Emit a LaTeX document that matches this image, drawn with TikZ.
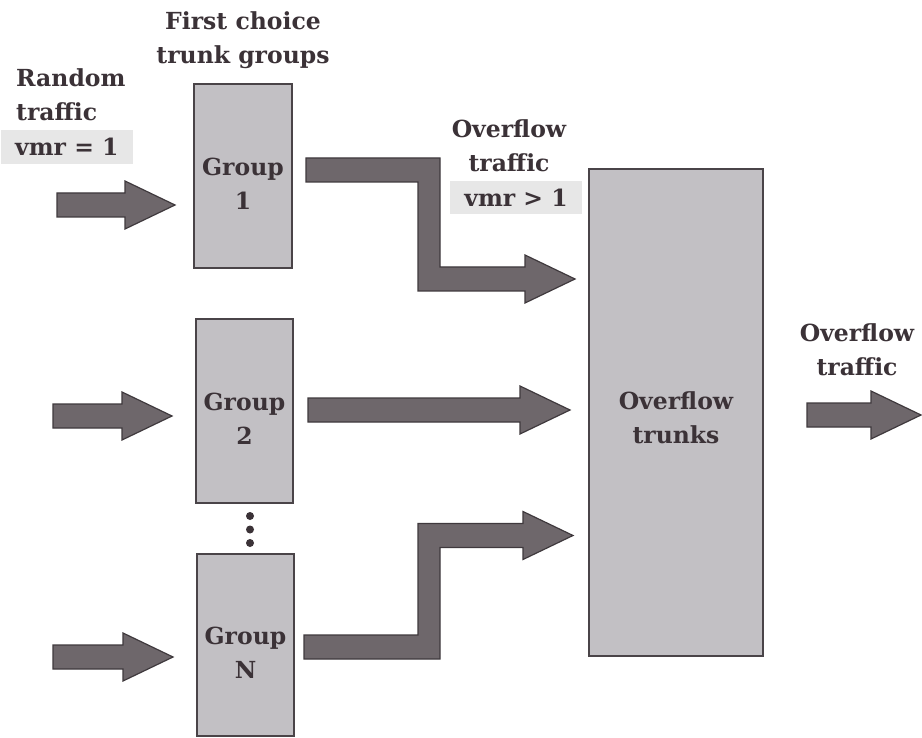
\documentclass[tikz,border=0pt]{standalone}
\usepackage{fontspec}
\setmainfont{DejaVu Serif}
\usetikzlibrary{calc}

\definecolor{inkc}{HTML}{3B3237}
\definecolor{arrowfill}{HTML}{6E676B}
\definecolor{arrowline}{HTML}{3F393D}
\definecolor{boxfill}{HTML}{C2C0C4}
\definecolor{boxline}{HTML}{4A4448}
\definecolor{tagfill}{HTML}{E7E7E7}

% half width of an arrow shaft, half width and length of its head
\def\fatw{12pt}
\def\fath{24pt}
\def\fatl{50pt}

% straight block arrow from #1 to the tip #2
\newcommand{\fatstraight}[2]{%
  \path[fatarrow] let \p1=(#1), \p2=(#2) in
    (\x1,\y1+\fatw) -- (\x2-\fatl,\y1+\fatw) -- (\x2-\fatl,\y1+\fath) -- (\x2,\y1)
    -- (\x2-\fatl,\y1-\fath) -- (\x2-\fatl,\y1-\fatw) -- (\x1,\y1-\fatw) -- cycle;}

% block arrow from #1 to the tip #4, with a vertical leg whose upper
% outline runs at the x of #2 and whose lower outline runs at the x of #3
\newcommand{\fatelbow}[4]{%
  \path[fatarrow] let \p1=(#1), \p2=(#2), \p3=(#3), \p4=(#4) in
    (\x1,\y1+\fatw) -- (\x2,\y1+\fatw) -- (\x2,\y4+\fatw)
    -- (\x4-\fatl,\y4+\fatw) -- (\x4-\fatl,\y4+\fath) -- (\x4,\y4)
    -- (\x4-\fatl,\y4-\fath) -- (\x4-\fatl,\y4-\fatw)
    -- (\x3,\y4-\fatw) -- (\x3,\y1-\fatw) -- (\x1,\y1-\fatw) -- cycle;}

\tikzset{
  trunkbox/.style={draw=boxline, line width=1.6pt, fill=boxfill, inner sep=0pt},
  lbl/.style={font=\fontsize{23.5}{34}\selectfont\bfseries, text=inkc, align=center, inner sep=0pt},
  tag/.style={lbl, fill=tagfill, inner xsep=14pt, inner ysep=8pt},
  fatarrow/.style={fill=arrowfill, draw=arrowline, line width=1.2pt, line join=miter},
  dotmark/.style={circle, fill=inkc, inner sep=0pt, minimum size=8pt}
}

\begin{document}
\begin{tikzpicture}[x=1pt, y=-1pt]
  \useasboundingbox[fill=white] (0,0) rectangle (922,738);

  % trunk groups
  \node[trunkbox, minimum width=98pt, minimum height=184pt] (g1) at (243,176) {};
  \node[trunkbox, minimum width=97pt, minimum height=184pt] (g2) at (244.5,411) {};
  \node[trunkbox, minimum width=97pt, minimum height=182pt] (gN) at (245.5,645) {};
  \node[trunkbox, minimum width=174pt, minimum height=487pt] (ot) at (676,412.5) {};

  \node[lbl] (g1t) at (243,184) {Group\\1};
  \node[lbl] (g2t) at (244.5,419) {Group\\2};
  \node[lbl] (gNt) at (245.5,653) {Group\\N};
  \node[lbl] (ott) at (676,418) {Overflow\\trunks};

  % ellipsis between group 2 and group N
  \node[dotmark] (d1) at (250,516) {};
  \node[dotmark] (d2) at (250,529.5) {};
  \node[dotmark] (d3) at (250,543) {};

  % headings and traffic labels
  \node[lbl] (hd) at (243,40) {First choice\\trunk groups};
  \node[lbl, align=left, anchor=west] (rt) at (16,95) {Random\\traffic};
  \node[tag, anchor=west] (rv) at (1,147) {vmr = 1};
  \node[lbl] (ovt) at (509,146) {Overflow\\traffic};
  \node[tag] (ovv) at (516,197.5) {vmr > 1};
  \node[lbl] (out) at (857,350) {Overflow\\traffic};

  % arrow end points and the outlines of the vertical legs
  \coordinate (in1) at (57,205);   \coordinate (in1e) at (175,205);
  \coordinate (in2) at (53,416);   \coordinate (in2e) at (172,416);
  \coordinate (inN) at (53,657);   \coordinate (inNe) at (173,657);
  \coordinate (o1)  at (306,170);  \coordinate (o1e) at (575,279);
  \coordinate (o1u) at (440,0);    \coordinate (o1l) at (418,0);
  \coordinate (o2)  at (308,410);  \coordinate (o2e) at (570,410);
  \coordinate (oN)  at (304,647);  \coordinate (oNe) at (573,535.5);
  \coordinate (oNu) at (418,0);    \coordinate (oNl) at (440,0);
  \coordinate (fo)  at (807,415);  \coordinate (foe) at (921,415);

  % incoming random traffic
  \fatstraight{in1}{in1e}
  \fatstraight{in2}{in2e}
  \fatstraight{inN}{inNe}

  % overflow traffic into the overflow trunks
  \fatelbow{o1}{o1u}{o1l}{o1e}
  \fatstraight{o2}{o2e}
  \fatelbow{oN}{oNu}{oNl}{oNe}

  % traffic leaving the overflow trunks
  \fatstraight{fo}{foe}
\end{tikzpicture}
\end{document}
